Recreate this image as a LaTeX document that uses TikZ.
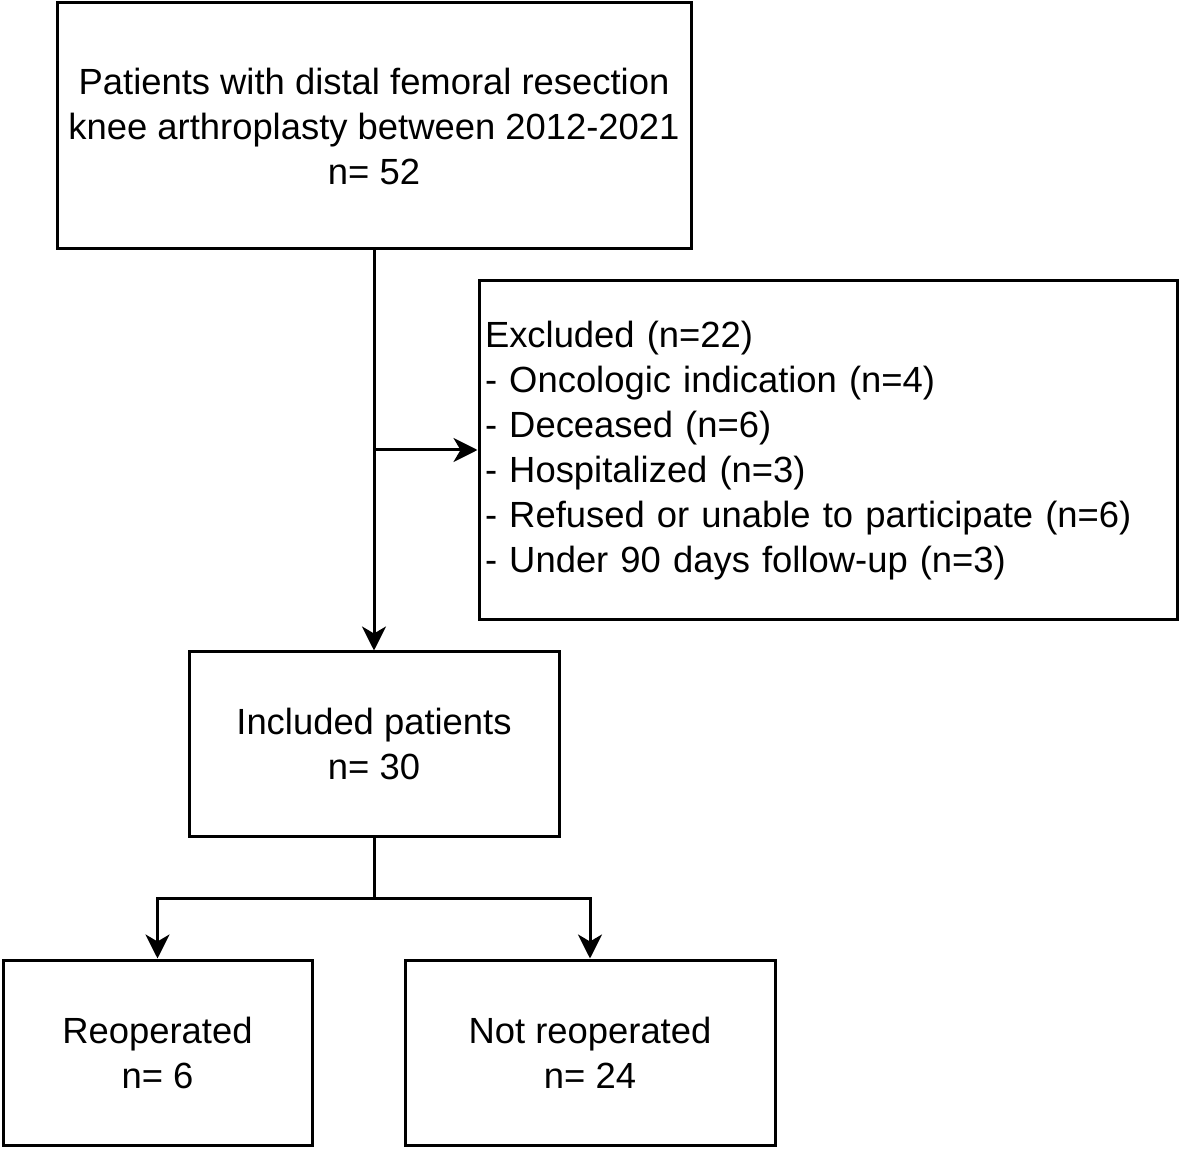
\documentclass[tikz,border=0pt]{standalone}
\usepackage{fontspec}
\setmainfont{Liberation Sans}
\usetikzlibrary{arrows.meta}

\tikzset{
    box/.style={draw, line width=1.5pt, align=center, inner sep=3pt,
        font=\fontsize{18.2}{22.5}\selectfont},
    arr/.style={line width=1.5pt, -{Stealth[length=12pt,width=12pt,inset=3.5pt]}},
    line/.style={line width=1.5pt}
}

\begin{document}
\begin{tikzpicture}[x=0.5pt,y=-0.5pt]
        \useasboundingbox (0,0) rectangle (1180,1150);
        \node[box, minimum width=317pt, minimum height=123pt] (top) at (374,126)
                {Patients with distal femoral resection\\knee arthroplasty between 2012-2021\\n= 52};
        \node[box, minimum width=349pt, minimum height=169.5pt, align=left,
                text width=343pt, inner sep=3pt] (exc) at (828,450.5)
                {Excluded (n=22)\\- Oncologic indication (n=4)\\- Deceased (n=6)\\- Hospitalized (n=3)\\- Refused or unable to participate (n=6)\\- Under 90 days follow-up (n=3)};
        \node[box, minimum width=185pt, minimum height=92pt] (inc) at (374,744)
                {Included patients\\n= 30};
        \node[box, minimum width=154.5pt, minimum height=92.5pt] (reop) at (157.5,1052.5)
                {Reoperated\\n= 6};
        \node[box, minimum width=185pt, minimum height=92.5pt] (notreop) at (590,1052.5)
                {Not reoperated\\n= 24};
        \coordinate (j1) at (374,450);
        \coordinate (j2) at (374,898);
        \draw[arr] (top) -- (inc);
        \draw[arr] (j1) -- (j1 -| exc.west);
        \draw[line] (inc) -- (j2);
        \draw[arr] (j2) -| (reop);
        \draw[arr] (j2) -| (notreop);
\end{tikzpicture}
\end{document}
